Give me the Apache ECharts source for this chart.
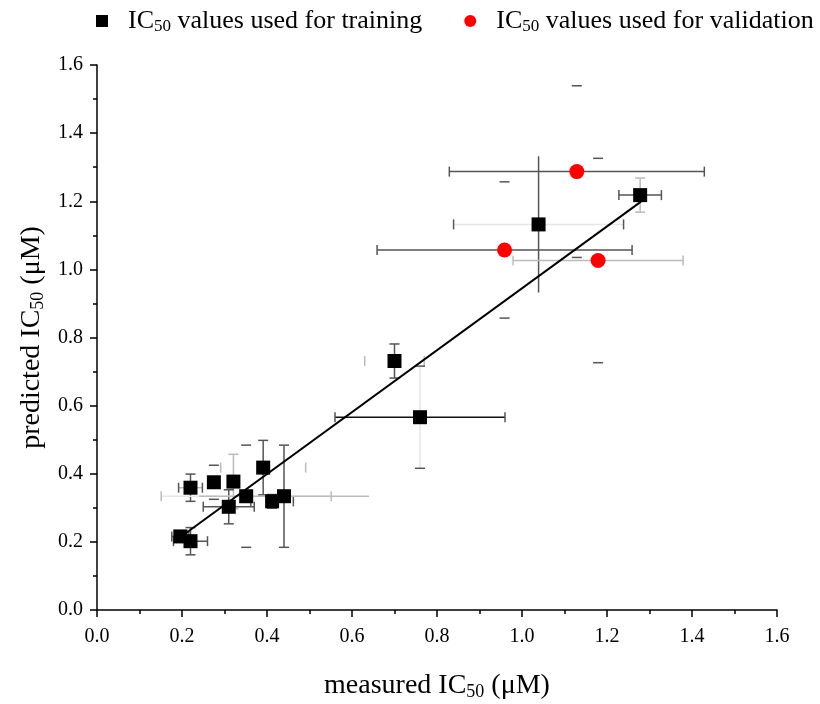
<!DOCTYPE html>
<html><head><meta charset="utf-8">
<script src="https://cdn.jsdelivr.net/npm/echarts@6/dist/echarts.min.js"></script>
<style>html,body{margin:0;padding:0;background:#fff}#c{width:820px;height:704px}</style>
</head><body><div id="c"></div>
<script>
// ---- data ----
const trainX    = [0.196, 0.220, 0.220, 0.275, 0.321, 0.310, 0.351, 0.391, 0.412, 0.440, 0.700, 0.760, 1.039, 1.278];
const trainY    = [0.216, 0.202, 0.359, 0.375, 0.377, 0.303, 0.334, 0.418, 0.319, 0.334, 0.731, 0.566, 1.132, 1.218];
const trainXErr = [0.020, 0.040, 0.028, 0.030, 0.030, 0.060, 0.200, 0.100, 0.050, 0.200, 0.070, 0.200, 0.200, 0.050];
const trainYErr = [0.015, 0.040, 0.040, 0.050, 0.080, 0.050, 0.150, 0.080, 0.020, 0.150, 0.050, 0.150, 0.200, 0.050];
const validX    = [1.129, 0.959, 1.179];
const validY    = [1.287, 1.057, 1.026];
const validXErr = [0.300, 0.300, 0.200];
const validYErr = [0.252, 0.200, 0.300];
const fitX = [0.195, 1.280];
const fitY = [0.213, 1.199];
const xTicks = [0, 0.2, 0.4, 0.6, 0.8, 1.0, 1.2, 1.4, 1.6];
const yTicks = [0, 0.2, 0.4, 0.6, 0.8, 1.0, 1.2, 1.4, 1.6];

// ---- styles (separate from data) ----
// per point: horizontal line, horizontal caps, vertical line, vertical caps
const trainTones = ['dddd','dddd','lddd','nnnd','nnll','dddd','xlnd','nldd','nddd','lndd','nldd','kdxd','xddn','ddll'];
const validTones = ['ddnd','ddnd','llnd'];
const TONE = {d:'#555', k:'#111', l:'#bbb', x:'#e6e6e6', n:null};
const FONT = '"Liberation Serif","Times New Roman",serif';

function makeRender(tones) {
  return function (params, api) {
    const i = params.dataIndex;
    const x = api.value(0), y = api.value(1), ex = api.value(2), ey = api.value(3);
    const t = tones[i];
    const c = api.coord([x, y]);
    const l = api.coord([x - ex, y]), r = api.coord([x + ex, y]);
    const top = api.coord([x, y + ey]), bot = api.coord([x, y - ey]);
    const cap = 5;
    const kids = [];
    const add = (x1, y1, x2, y2, tone) => {
      const col = TONE[tone];
      if (!col) return;
      kids.push({type: 'line', shape: {x1, y1, x2, y2}, style: {stroke: col, lineWidth: 1.5}});
    };
    add(l[0], c[1], r[0], c[1], t[0]);
    add(l[0], c[1] - cap, l[0], c[1] + cap, t[1]);
    add(r[0], c[1] - cap, r[0], c[1] + cap, t[1]);
    add(c[0], top[1], c[0], bot[1], t[2]);
    add(c[0] - cap, top[1], c[0] + cap, top[1], t[3]);
    add(c[0] - cap, bot[1], c[0] + cap, bot[1], t[3]);
    return {type: 'group', children: kids};
  };
}

const trainPts = trainX.map((v, i) => [v, trainY[i]]);
const validPts = validX.map((v, i) => [v, validY[i]]);
const trainErr = trainX.map((v, i) => [v, trainY[i], trainXErr[i], trainYErr[i]]);
const validErr = validX.map((v, i) => [v, validY[i], validXErr[i], validYErr[i]]);
const fitPts = fitX.map((v, i) => [v, fitY[i]]);

const NAME_T = 'IC50 values used for training';
const NAME_V = 'IC50 values used for validation';

const richText = {
  sp: {width: 15},
  m: {fontFamily: FONT, fontSize: 26, color: '#000', lineHeight: 30},
  s: {fontFamily: FONT, fontSize: 17, color: '#000', lineHeight: 30, padding: [11, 0, 0, 0]}
};
const axRich = {
  m: {fontFamily: FONT, fontSize: 28, color: '#000', lineHeight: 34},
  s: {fontFamily: FONT, fontSize: 18, color: '#000', lineHeight: 34, padding: [12, 0, 0, 0]}
};

const chart = echarts.init(document.getElementById('c'), null, {renderer: 'canvas'});
chart.setOption({
  animation: false,
  backgroundColor: '#fff',
  grid: {left: 97, right: 43, top: 65, bottom: 94, containLabel: false, outerBoundsMode: 'none'},
  legend: {
    top: 2, left: 91,
    itemWidth: 12, itemHeight: 12, itemGap: 42,
    data: [{name: NAME_T, icon: 'rect'}, {name: NAME_V, icon: 'circle'}],
    formatter: n => n === NAME_T
      ? '{sp|}{m|IC}{s|50}{m| values used for training}'
      : '{sp|}{m|IC}{s|50}{m| values used for validation}',
    textStyle: {rich: richText, fontFamily: FONT, fontSize: 26, color: '#000'}
  },
  xAxis: {
    type: 'value', min: 0, max: 1.6, interval: 0.2,
    name: '{m|measured IC}{s|50}{m| (μM)}',
    nameLocation: 'middle', nameGap: 59,
    nameTextStyle: {rich: axRich},
    axisLine: {show: true, onZero: false, lineStyle: {color: '#000', width: 1.5}},
    axisTick: {show: true, inside: false, length: 7, lineStyle: {color: '#000', width: 1.5}},
    minorTick: {show: true, splitNumber: 2, length: 4, lineStyle: {color: '#000', width: 1.5}},
    splitLine: {show: false},
    axisLabel: {fontFamily: FONT, fontSize: 20, color: '#000', margin: 17,
      formatter: v => xTicks.includes(Math.round(v * 10) / 10) ? v.toFixed(1) : ''}
  },
  yAxis: {
    type: 'value', min: 0, max: 1.6, interval: 0.2,
    name: '{m|predicted IC}{s|50}{m| (μM)}',
    nameLocation: 'middle', nameGap: 48,
    nameTextStyle: {rich: axRich},
    axisLine: {show: true, onZero: false, lineStyle: {color: '#000', width: 1.5}},
    axisTick: {show: true, inside: false, length: 7, lineStyle: {color: '#000', width: 1.5}},
    minorTick: {show: true, splitNumber: 2, length: 4, lineStyle: {color: '#000', width: 1.5}},
    splitLine: {show: false},
    axisLabel: {fontFamily: FONT, fontSize: 20, color: '#000', margin: 14,
      formatter: v => yTicks.includes(Math.round(v * 10) / 10) ? v.toFixed(1) : ''}
  },
  series: [
    {type: 'custom', name: 'errT', renderItem: makeRender(trainTones), data: trainErr, z: 1, silent: true,
      encode: {x: 0, y: 1}},
    {type: 'custom', name: 'errV', renderItem: makeRender(validTones), data: validErr, z: 1, silent: true,
      encode: {x: 0, y: 1}},
    {type: 'line', name: 'fit', data: fitPts, symbol: 'none', z: 2,
      lineStyle: {color: '#000', width: 2}},
    {type: 'scatter', name: NAME_T, data: trainPts, symbol: 'rect', symbolSize: 14, z: 3,
      itemStyle: {color: '#000', opacity: 1}},
    {type: 'scatter', name: NAME_V, data: validPts, symbol: 'circle', symbolSize: 15, z: 3,
      itemStyle: {color: '#ff0000', opacity: 1}}
  ]
});
</script></body></html>
